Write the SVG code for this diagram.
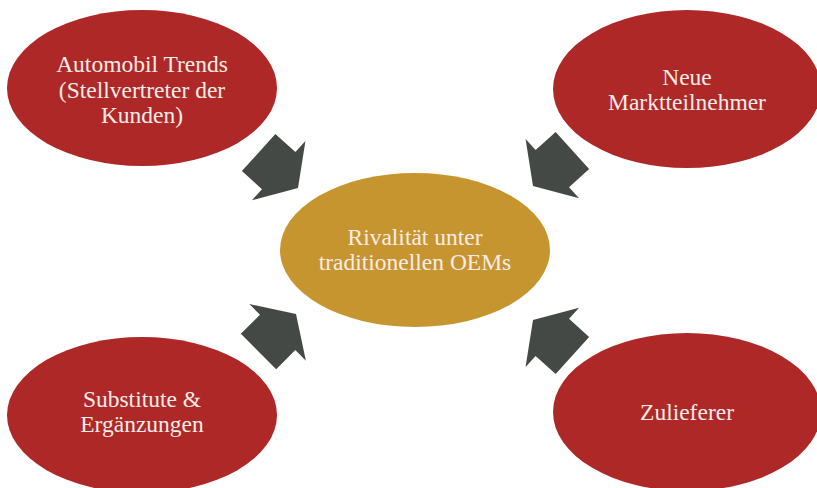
<svg xmlns="http://www.w3.org/2000/svg" width="817" height="488" viewBox="0 0 817 488">
  <style>
    .force { fill: #ae2828; }
    .core { fill: #c6952f; }
    .label { font-family: "Liberation Serif", "Times New Roman", serif; font-size: 23.5px; fill: #f6ece7; text-anchor: middle; }
    .pointer { fill: #444946; }
  </style>
  <defs>
    <!-- block arrow, tip at the origin, pointing along +x -->
    <path id="blockArrow" d="M0,0 L-26,-40 L-26,-25 L-53,-25 L-53,25 L-26,25 L-26,40 Z"/>
  </defs>
  <rect width="817" height="488" fill="#ffffff"/>

  <g id="connectors" class="pointer">
    <use href="#blockArrow" transform="translate(298,188) rotate(42)"/>
    <use href="#blockArrow" transform="translate(533,186) rotate(138)"/>
    <use href="#blockArrow" transform="translate(296,314) rotate(-45)"/>
    <use href="#blockArrow" transform="translate(533,320) rotate(-138)"/>
  </g>

  <g id="node-trends">
    <ellipse class="force" cx="142" cy="88" rx="135" ry="78"/>
    <text class="label" x="142" y="72">Automobil Trends</text>
    <text class="label" x="142" y="98">(Stellvertreter der</text>
    <text class="label" x="142" y="123">Kunden)</text>
  </g>

  <g id="node-newcomers">
    <ellipse class="force" cx="687" cy="89" rx="134" ry="79"/>
    <text class="label" x="687" y="85">Neue</text>
    <text class="label" x="687" y="110">Marktteilnehmer</text>
  </g>

  <g id="node-rivalry">
    <ellipse class="core" cx="415" cy="250" rx="135" ry="77"/>
    <text class="label" x="415" y="245">Rivalität unter</text>
    <text class="label" x="415" y="270">traditionellen OEMs</text>
  </g>

  <g id="node-substitutes">
    <ellipse class="force" cx="142" cy="415" rx="135" ry="78"/>
    <text class="label" x="142" y="407">Substitute &amp;</text>
    <text class="label" x="142" y="432">Ergänzungen</text>
  </g>

  <g id="node-suppliers">
    <ellipse class="force" cx="687" cy="412" rx="134" ry="79"/>
    <text class="label" x="687" y="420">Zulieferer</text>
  </g>
</svg>
